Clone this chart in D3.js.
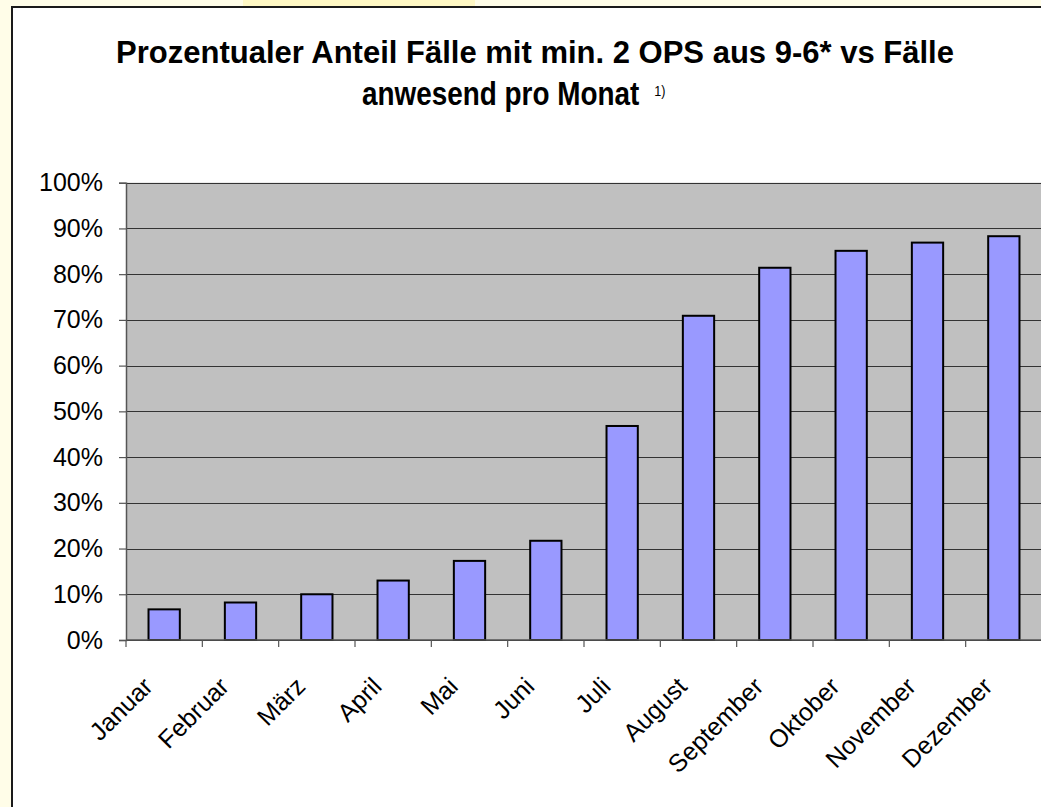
<!DOCTYPE html>
<html>
<head>
<meta charset="utf-8">
<script src="https://cdn.jsdelivr.net/npm/d3@7"></script>
<style>
  html, body { margin: 0; padding: 0; background: #fffde8; overflow: hidden; }
  text { font-family: Arial, "Liberation Sans", sans-serif; fill: #000; }
</style>
</head>
<body>
<svg width="1041" height="807"></svg>
<script>
var months = ["Januar", "Februar", "März", "April", "Mai", "Juni", "Juli",
  "August", "September", "Oktober", "November", "Dezember"];
var shares = [0.067, 0.082, 0.100, 0.130, 0.173, 0.217, 0.468,
  0.709, 0.814, 0.851, 0.869, 0.883];
var yTicks = [0, 0.1, 0.2, 0.3, 0.4, 0.5, 0.6, 0.7, 0.8, 0.9, 1.0];
var titleLines = ["Prozentualer Anteil Fälle mit min. 2 OPS aus 9-6* vs Fälle", "anwesend pro Monat"];
var footnote = "1)";

var svg = d3.select("svg"),
  width = +svg.attr("width"),
  height = +svg.attr("height");

// page background bits
svg.append("rect").attr("x", 0).attr("y", 0).attr("width", width).attr("height", height).attr("fill", "#fffde8");
svg.append("rect").attr("x", 243).attr("y", 0).attr("width", 232).attr("height", 7).attr("fill", "#fff8c4");

// chart box
svg.append("rect")
  .attr("x", 12).attr("y", 7)
  .attr("width", width + 10).attr("height", height + 10)
  .attr("fill", "#fff")
  .attr("stroke", "#1a1a1a")
  .attr("stroke-width", 2);

var plot = { left: 126, right: 1042, top: 182.7, bottom: 640 };

var x = d3.scaleBand()
  .domain(months)
  .range([plot.left, plot.right])
  .paddingInner(0.59)
  .paddingOuter(0.295);

var y = d3.scaleLinear()
  .domain([0, 1])
  .range([plot.bottom, plot.top]);

var g = svg.append("g");

g.append("rect")
  .attr("x", plot.left).attr("y", plot.top)
  .attr("width", plot.right - plot.left).attr("height", plot.bottom - plot.top)
  .attr("fill", "#c0c0c0");

// grid lines
g.append("g").selectAll("line")
  .data(yTicks)
  .enter().append("line")
  .attr("x1", plot.left).attr("x2", plot.right)
  .attr("y1", function(d) { return Math.round(y(d)) + 0.5; })
  .attr("y2", function(d) { return Math.round(y(d)) + 0.5; })
  .attr("stroke", "#333")
  .attr("stroke-width", 1.2);

// bars
g.append("g").selectAll("rect")
  .data(shares)
  .enter().append("rect")
  .attr("x", function(d, i) { return x(months[i]); })
  .attr("y", function(d) { return y(d); })
  .attr("width", x.bandwidth())
  .attr("height", function(d) { return y(0) - y(d); })
  .attr("fill", "#9999ff")
  .attr("stroke", "#000")
  .attr("stroke-width", 2);

// y axis
var yAxis = d3.axisLeft(y)
  .tickValues(yTicks)
  .tickSize(7)
  .tickPadding(16)
  .tickFormat(d3.format(".0%"));

var ya = svg.append("g")
  .attr("transform", "translate(" + plot.left + ",0)")
  .call(yAxis);
ya.select(".domain").attr("stroke", "#555").attr("stroke-width", 1.5);
ya.selectAll(".tick line").attr("stroke", "#555").attr("stroke-width", 1.2);
ya.selectAll(".tick text").style("font-size", "25px").attr("fill", "#000");

// x axis: ticks at band boundaries
var step = x.step();
var bounds = d3.range(months.length + 1).map(function(i) { return plot.left + i * step; });
var xa = svg.append("g");
xa.append("line")
  .attr("x1", plot.left).attr("x2", plot.right)
  .attr("y1", plot.bottom).attr("y2", plot.bottom)
  .attr("stroke", "#555").attr("stroke-width", 1.5);
xa.selectAll("line.tk")
  .data(bounds)
  .enter().append("line")
  .attr("class", "tk")
  .attr("x1", function(d) { return d; }).attr("x2", function(d) { return d; })
  .attr("y1", plot.bottom).attr("y2", plot.bottom + 7)
  .attr("stroke", "#555").attr("stroke-width", 1.2);

xa.selectAll("text")
  .data(months)
  .enter().append("text")
  .attr("text-anchor", "end")
  .style("font-size", "25px")
  .attr("transform", function(d) {
    return "translate(" + (x(d) + x.bandwidth() / 2 - 10) + "," + 688 + ") rotate(-45)";
  })
  .text(function(d) { return d; });

// title
var title = svg.append("g").attr("font-weight", "bold");
title.append("text")
  .attr("text-anchor", "middle")
  .attr("x", 535).attr("y", 63)
  .style("font-size", "31px")
  .text(titleLines[0]);
var l2 = title.append("text")
  .attr("transform", "translate(362,105) scale(0.9,1.05)")
  .style("font-size", "31px");
l2.append("tspan").text(titleLines[1] + " ");
l2.append("tspan")
  .attr("dx", 8)
  .attr("dy", -9)
  .attr("font-weight", "normal")
  .style("font-size", "14px")
  .text(footnote);
</script>
</body>
</html>
